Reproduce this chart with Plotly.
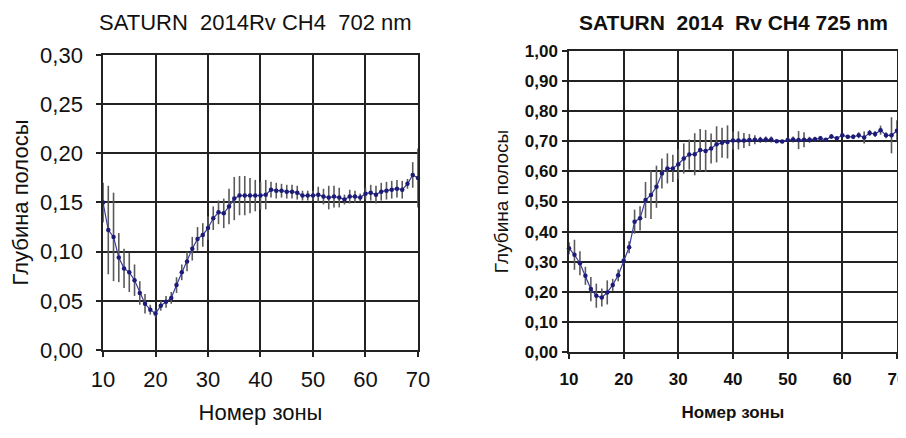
import plotly.graph_objects as go

# zone numbers (same for both panels)
zones = list(range(10, 71))

# 702 nm band depth and errors
depth_702 = [0.150, 0.122, 0.115, 0.094, 0.083, 0.079, 0.071, 0.058, 0.047, 0.041,
             0.037, 0.045, 0.049, 0.053, 0.066, 0.079, 0.090, 0.103, 0.113, 0.117,
             0.124, 0.134, 0.140, 0.139, 0.146, 0.154, 0.157, 0.157, 0.157, 0.157,
             0.157, 0.158, 0.163, 0.162, 0.162, 0.161, 0.161, 0.160, 0.157, 0.157,
             0.157, 0.158, 0.156, 0.155, 0.156, 0.155, 0.153, 0.156, 0.156, 0.155,
             0.159, 0.160, 0.158, 0.161, 0.162, 0.163, 0.164, 0.163, 0.169, 0.178,
             0.175]
err_702 = [0.020, 0.045, 0.045, 0.025, 0.020, 0.020, 0.016, 0.012, 0.010, 0.005,
           0.004, 0.005, 0.006, 0.006, 0.008, 0.008, 0.010, 0.012, 0.012, 0.012,
           0.012, 0.012, 0.012, 0.015, 0.018, 0.022, 0.020, 0.020, 0.018, 0.016,
           0.014, 0.015, 0.008, 0.008, 0.007, 0.007, 0.007, 0.007, 0.005, 0.005,
           0.005, 0.008, 0.008, 0.012, 0.011, 0.010, 0.005, 0.007, 0.006, 0.004,
           0.006, 0.008, 0.009, 0.009, 0.009, 0.009, 0.009, 0.009, 0.005, 0.013,
           0.030]

# 725 nm band depth and errors
depth_725 = [0.345, 0.323, 0.295, 0.253, 0.209, 0.187, 0.181, 0.198, 0.223, 0.255,
             0.303, 0.348, 0.433, 0.444, 0.505, 0.522, 0.549, 0.593, 0.610, 0.610,
             0.624, 0.643, 0.656, 0.657, 0.671, 0.668, 0.676, 0.690, 0.695, 0.698,
             0.703, 0.703, 0.703, 0.704, 0.705, 0.705, 0.706, 0.706, 0.700, 0.699,
             0.704, 0.706, 0.704, 0.705, 0.705, 0.707, 0.710, 0.705, 0.716, 0.710,
             0.720, 0.715, 0.715, 0.720, 0.713, 0.728, 0.724, 0.737, 0.720, 0.720,
             0.735]
err_725 = [0.020, 0.050, 0.040, 0.030, 0.040, 0.040, 0.030, 0.040, 0.020, 0.020,
           0.010, 0.020, 0.040, 0.040, 0.060, 0.080, 0.070, 0.050, 0.050, 0.045,
           0.050, 0.050, 0.050, 0.070, 0.070, 0.070, 0.050, 0.060, 0.050, 0.055,
           0.030, 0.030, 0.025, 0.020, 0.015, 0.010, 0.010, 0.010, 0.005, 0.005,
           0.008, 0.010, 0.030, 0.025, 0.010, 0.008, 0.008, 0.005, 0.008, 0.005,
           0.006, 0.006, 0.008, 0.010, 0.020, 0.010, 0.010, 0.015, 0.010, 0.060,
           0.035]

W, H = 906, 438
navy = "#1c1c78"
fam = "Liberation Sans, Arial"
ink = "#111"

fig = go.Figure()

for y, e, xa, ya in [(depth_702, err_702, "x", "y"), (depth_725, err_725, "x2", "y2")]:
    fig.add_trace(go.Scatter(
        x=zones, y=y, xaxis=xa, yaxis=ya, mode="lines+markers",
        line=dict(color="#3b3b9c", width=1.2),
        marker=dict(color=navy, size=4.5),
        error_y=dict(type="data", array=e, color="#5a5a5a", thickness=1.6, width=0),
        cliponaxis=False, showlegend=False,
    ))

grid = dict(showgrid=True, gridcolor="#222", gridwidth=1.5, showline=True,
            linecolor="#222", linewidth=1.5, mirror=True, zeroline=False, automargin=False,
            ticks="outside", ticklen=5, tickcolor="#222", tickwidth=1.5)

# the page body adds an 8px offset, so domains are shifted to compensate
fig.update_layout(
    width=W, height=H, margin=dict(l=0, r=0, t=0, b=0),
    plot_bgcolor="white", paper_bgcolor="white", separators=", ",
    xaxis=dict(domain=[0.1049, 0.4525], range=[10, 70], dtick=10,
               tickfont=dict(family=fam, size=22, color=ink), ticklabelstandoff=4,
               title=dict(text="Номер зоны", font=dict(family=fam, size=22, color=ink), standoff=13),
               anchor="y", **grid),
    yaxis=dict(domain=[0.2192, 0.8927], range=[0, 0.30], dtick=0.05, tickformat=".2f",
               tickfont=dict(family=fam, size=22, color=ink), ticklabelstandoff=9, anchor="x",
               title=dict(text="Глубина полосы", font=dict(family=fam, size=22, color=ink), standoff=17),
               **grid),
    xaxis2=dict(domain=[0.6192, 0.9812], range=[10, 70], dtick=10,
                tickfont=dict(family=fam, size=17, color=ink, weight="bold"), ticklabelstandoff=6,
                title=dict(text="Номер зоны", font=dict(family=fam, size=17, color=ink, weight="bold"),
                           standoff=18),
                anchor="y2", **grid),
    yaxis2=dict(domain=[0.2146, 0.9018], range=[0, 1.0], dtick=0.1, tickformat=".2f",
                tickfont=dict(family=fam, size=17, color=ink, weight="bold"), ticklabelstandoff=1,
                anchor="x2",
                title=dict(text="Глубина полосы", font=dict(family=fam, size=19, color=ink), standoff=11),
                **grid),
    annotations=[
        dict(text="SATURN  2014Rv CH4  702 nm", x=247 / W, y=1 - 14 / H, xref="paper", yref="paper",
             xanchor="center", yanchor="middle", showarrow=False,
             font=dict(family=fam, size=22, color=ink)),
        dict(text="<b>SATURN  2014  Rv CH4 725 nm</b>", x=725 / W, y=1 - 14 / H, xref="paper",
             yref="paper", xanchor="center", yanchor="middle", showarrow=False,
             font=dict(family=fam, size=21, color=ink)),
    ],
)

fig.write_html("out.html")
